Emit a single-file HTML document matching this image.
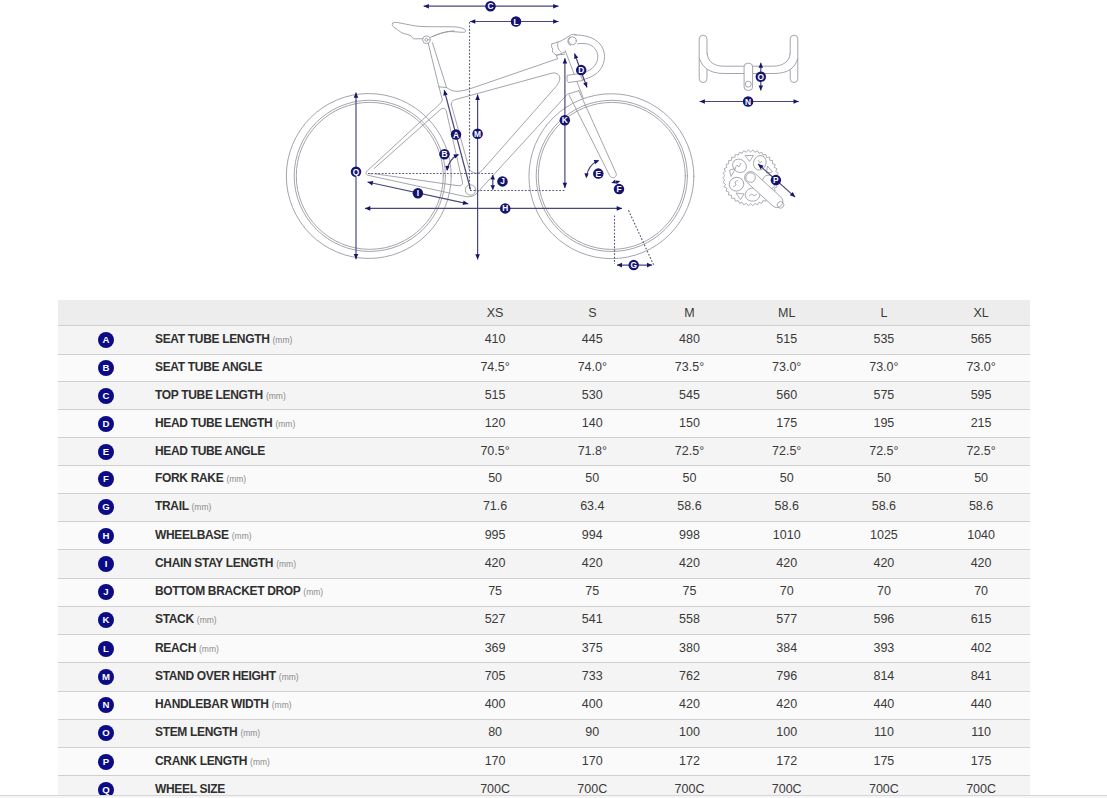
<!DOCTYPE html>
<html><head><meta charset="utf-8"><title>Geometry</title>
<style>
html,body{margin:0;padding:0;background:#fff;}
body{width:1107px;height:798px;overflow:hidden;position:relative;font-family:"Liberation Sans",sans-serif;}
.diag{position:absolute;left:0;top:0;}
.hdr{position:absolute;left:58px;top:300px;width:972px;height:25px;background:#ededed;}
.row{position:absolute;left:58px;width:972px;}
.bd{position:absolute;left:58px;width:972px;height:1px;background:#cfcfcf;}
.c{position:absolute;text-align:center;width:97px;font-size:12.5px;color:#3a3a3a;line-height:14px;white-space:nowrap;}
.h{color:#3a3a3a;}
.lbl{position:absolute;left:155px;font-size:12px;font-weight:bold;letter-spacing:-0.33px;color:#2f2f2f;line-height:14px;white-space:nowrap;}
.mm{font-size:8.5px;font-weight:normal;color:#8a8a8a;letter-spacing:0;}
.bdg{position:absolute;left:98px;width:16px;height:16px;border-radius:50%;background:#0b0b86;color:#fff;font-size:9.6px;font-weight:bold;text-align:center;line-height:16px;}
.foot{position:absolute;left:0;top:795px;width:1107px;height:1px;background:#d6d6d6;}
.foot2{position:absolute;left:0;top:796px;width:1107px;height:2px;background:#f6f6f6;}
</style></head><body>

<div class="diag"><svg width="1107" height="290" viewBox="0 0 1107 290"><g fill="none" stroke="#9a9aa3" stroke-width="0.9" stroke-linecap="round" stroke-linejoin="round"><circle cx="368.8" cy="176.0" r="82.45"/><circle cx="369.8" cy="175.85" r="75.6"/><circle cx="369.8" cy="175.85" r="73.5"/><circle cx="611.4" cy="176.2" r="82.45"/><circle cx="611.8" cy="175.9" r="75.6"/><circle cx="611.8" cy="175.9" r="73.5"/><path d="M392.5,23.2 C394,22 397,22.3 400,23 C408,24.5 414,26 420,26.4 C432,27 445,26.6 455,26.9 C460,27.2 464,28.2 465.8,30.5 C466,32 464.5,32.5 462,32.3 C458,32 454,31.6 450,31.5 C444,31.8 438,34 433,36.5 M392.5,23.2 C391.5,25 393,27 396,28.5 C399,31 401.5,33 405,33.8 C407,34.2 409,34.8 410.5,35.5"/><path d="M410.5,35.5 L413.5,38.8 L422.5,38.8"/><path d="M430,37.5 C438,33.5 446,31.5 454,30.8"/><circle cx="426.4" cy="39.8" r="3.8"/><circle cx="426.4" cy="39.8" r="1.5"/><path d="M428.2,43.2 L438.9,86.8"/><path d="M432.4,42.8 L446.6,87.6"/><path d="M438.9,86.8 L446.6,87.6 C450,90 453,91.5 458,91.3 C462,91 466,90 470,88.8 L557.6,58.7"/><path d="M451.3,104.5 C451,102 452,100.5 456,99.4 L551,73.4 C556,72 559.5,74 559.8,78 C560,81 558,84 556,86.5 L482,170.5 C480,172.5 478,173.3 476,173.2 C473,173 471,171 469.5,170"/><path d="M451.3,104.5 L469.5,170"/><path d="M438.9,86.8 L442.4,100 C441,103 438,106 432,111 L367.5,170.7"/><path d="M374.3,168.4 L440,110 C443,107 445.5,108.5 446.3,111 L462.5,182 C463,185 461,186 458,185.7 L374.8,173.8"/><path d="M366.8,171 C365.5,173 365.8,175 369,175.5 L463,196 C468,197.5 474,197 477,193"/><path d="M369,173.5 L372,174"/><circle cx="470.5" cy="190" r="5.2"/><path d="M477,193 L567.4,94.2 L578.8,90.7"/><path d="M557.6,58.7 L556.2,55 L564.8,54.2"/><path d="M565.2,50.5 L583.3,98.3"/><path d="M556.5,55.5 L565,52"/><path d="M551.8,44 C551,46 551.5,48 553,49 C552,50 552,52 553.5,53 L556.2,55"/><path d="M551.8,44 L558,42 C562,41 566,38 570,35.5 C572,34 575,34 576.5,35"/><path d="M558,42 C557,46 558,50 561,52"/><circle cx="572.4" cy="40.8" r="3.9"/><path d="M570,37 C567,39 567,44 570.5,45.5"/><path d="M574.5,35 C583,34.5 594,37 600,44 C606,51 606,62 600,70 C594,77 585,80 575,81"/><path d="M577.5,43.8 C585,42.6 593,44 596.5,51 C599.5,57 597.5,65 590,69.8 C586.5,72 583,73.6 580,74.5"/><path d="M569.1,95.1 L609.6,175.4 C611,178 614,178.5 615.5,176.5 C616.5,175.5 616.5,174 616,173 L578.8,90.7"/><path fill="#fff" d="M567.5,75.3 L580,73.5 L582.8,80.5 L569,82.5 C567.5,82.5 567,81 567,79.5 Z"/></g><g fill="none" stroke="#9a9aa3" stroke-width="0.9" stroke-linejoin="round"><rect x="699.2" y="35.2" width="7.8" height="47.3" rx="3.9"/><rect x="790.2" y="35.2" width="7.6" height="47.3" rx="3.8"/><path stroke="none" fill="#fff" d="M707,53 C708,62 714,66.2 724,66.2 L772.6,66.2 C782.6,66.2 789.6,62 790.2,53 L797.8,57.7 C796,67 789,73.5 774,73.5 L724,73.5 C709,73.5 702,67 699.2,57.7 Z"/><path d="M707,53 C708,62 714,66.2 724,66.2 L772.6,66.2 C782.6,66.2 789.6,62 790.2,53"/><path d="M699.2,57.7 C702,67 709,73.5 724,73.5 L774,73.5 C789,73.5 796,67 797.8,57.7"/><rect x="744.1" y="63.3" width="8.5" height="27.1" rx="3.5" fill="#fff"/><circle cx="748.3" cy="84.2" r="3"/></g><g fill="none" stroke="#9a9aa3" stroke-width="0.8" stroke-linejoin="round"><polygon points="778.6,177.8 776.4,179.9 778.2,182.4 775.7,184.2 777.1,186.9 774.3,188.2 775.2,191.1 772.3,192.0 772.7,195.0 769.7,195.3 769.6,198.4 766.5,198.2 765.9,201.2 762.9,200.6 761.8,203.4 759.0,202.3 757.5,204.9 754.9,203.3 752.9,205.7 750.6,203.7 748.3,205.7 746.3,203.3 743.7,204.9 742.2,202.3 739.4,203.4 738.3,200.6 735.3,201.2 734.7,198.2 731.6,198.4 731.5,195.3 728.5,195.0 728.9,192.0 726.0,191.1 726.9,188.2 724.1,186.9 725.5,184.2 723.0,182.4 724.8,179.9 722.6,177.8 724.8,175.7 723.0,173.2 725.5,171.4 724.1,168.7 726.9,167.4 726.0,164.5 728.9,163.6 728.5,160.6 731.5,160.3 731.6,157.2 734.7,157.4 735.3,154.4 738.3,155.0 739.4,152.2 742.2,153.3 743.7,150.7 746.3,152.3 748.3,149.9 750.6,151.9 752.9,149.9 754.9,152.3 757.5,150.7 759.0,153.3 761.8,152.2 762.9,155.0 765.9,154.4 766.5,157.4 769.6,157.2 769.7,160.3 772.7,160.6 772.3,163.6 775.2,164.5 774.3,167.4 777.1,168.7 775.7,171.4 778.2,173.2 776.4,175.7"/><ellipse cx="739.5" cy="165.8" rx="7.3" ry="6.3" transform="rotate(40 739.5 165.8)"/><ellipse cx="759.8" cy="162.8" rx="6.2" ry="7.4" transform="rotate(20 759.8 162.8)"/><ellipse cx="736.5" cy="184.2" rx="7.3" ry="6.8" transform="rotate(-20 736.5 184.2)"/><ellipse cx="752.6" cy="194.6" rx="6.6" ry="7.4" transform="rotate(80 752.6 194.6)"/><ellipse cx="769" cy="182" rx="6.5" ry="7" transform="rotate(-30 769 182)"/><path d="M735,168 l2,-3 l2,2 l2,-4 M733,187 l3,-2 l-1,-3 l3,-2 M749,196 l3,-2 l2,2 l3,-2 M758,160 l2,3 l2,-2"/><polygon points="745,155.5 753.5,155.5 749.5,161.5"/><polygon points="729.5,170 735.5,168.5 731,176.5"/><polygon points="736,193 744,194 740.5,199.5"/><polygon points="767.5,166 772.5,172 766.5,173"/><polygon points="762,196 768,193 767,199"/><g transform="translate(750.6 177.6) rotate(42.3)"><rect x="-6" y="-6" width="47.5" height="12" rx="6" fill="#fff"/><circle cx="0" cy="0" r="4.8"/><circle cx="40.5" cy="0" r="3.3"/></g></g><g stroke="#5a5a7c" stroke-width="1.1" stroke-dasharray="1.8 1.63" fill="none"><line x1="469.5" y1="22" x2="469.5" y2="189"/><line x1="368" y1="173.5" x2="493" y2="173.5"/><line x1="470" y1="190.5" x2="565" y2="190.5"/><line x1="614.5" y1="215.5" x2="614.5" y2="264"/><line x1="628.5" y1="210.3" x2="653.6" y2="264.8"/></g><line x1="423.6" y1="6.2" x2="558.5" y2="6.2" stroke="#48487c" stroke-width="1.2"/><polygon points="558.5,6.2 553.2,8.5 553.2,3.9" fill="#14146e"/><polygon points="423.6,6.2 428.9,3.9 428.9,8.5" fill="#14146e"/><line x1="470" y1="21.5" x2="558.5" y2="21.5" stroke="#48487c" stroke-width="1.2"/><polygon points="558.5,21.5 553.2,23.8 553.2,19.2" fill="#14146e"/><polygon points="470.0,21.5 475.3,19.2 475.3,23.8" fill="#14146e"/><line x1="356" y1="92.4" x2="356" y2="259.2" stroke="#48487c" stroke-width="1.2"/><polygon points="356.0,259.2 353.7,253.9 358.3,253.9" fill="#14146e"/><polygon points="356.0,92.4 358.3,97.7 353.7,97.7" fill="#14146e"/><line x1="470.5" y1="189.5" x2="444.2" y2="90" stroke="#48487c" stroke-width="1.2"/><polygon points="444.2,90.0 447.8,94.5 443.3,95.7" fill="#14146e"/><line x1="477.6" y1="94.6" x2="477.6" y2="259.5" stroke="#48487c" stroke-width="1.2"/><polygon points="477.6,259.5 475.3,254.2 479.9,254.2" fill="#14146e"/><polygon points="477.6,94.6 479.9,99.9 475.3,99.9" fill="#14146e"/><line x1="564.9" y1="58.2" x2="564.9" y2="188" stroke="#48487c" stroke-width="1.2"/><polygon points="564.9,188.0 562.6,182.7 567.2,182.7" fill="#14146e"/><polygon points="564.9,58.2 567.2,63.5 562.6,63.5" fill="#14146e"/><line x1="574.5" y1="53.5" x2="587" y2="87.5" stroke="#48487c" stroke-width="1.2"/><polygon points="587.0,87.5 583.2,83.6 587.3,82.0" fill="#14146e"/><polygon points="574.5,53.5 578.3,57.4 574.2,59.0" fill="#14146e"/><line x1="367.5" y1="182" x2="468.3" y2="203.8" stroke="#48487c" stroke-width="1.2"/><polygon points="468.3,203.8 462.6,204.9 463.6,200.4" fill="#14146e"/><polygon points="367.5,182.0 373.2,180.9 372.2,185.4" fill="#14146e"/><line x1="365" y1="208.4" x2="622" y2="208.4" stroke="#48487c" stroke-width="1.2"/><polygon points="622.0,208.4 616.7,210.7 616.7,206.1" fill="#14146e"/><polygon points="365.0,208.4 370.3,206.1 370.3,210.7" fill="#14146e"/><line x1="492.8" y1="174.9" x2="492.8" y2="189.8" stroke="#48487c" stroke-width="1.2"/><polygon points="492.8,189.8 490.5,185.3 495.1,185.3" fill="#14146e"/><polygon points="492.8,174.9 495.1,179.4 490.5,179.4" fill="#14146e"/><line x1="617" y1="265.1" x2="652" y2="265.1" stroke="#48487c" stroke-width="1.2"/><polygon points="652.0,265.1 647.0,267.5 647.0,262.7" fill="#14146e"/><polygon points="617.0,265.1 622.0,262.7 622.0,267.5" fill="#14146e"/><line x1="699.6" y1="101.5" x2="798.8" y2="101.5" stroke="#48487c" stroke-width="1.2"/><polygon points="798.8,101.5 793.5,103.8 793.5,99.2" fill="#14146e"/><polygon points="699.6,101.5 704.9,99.2 704.9,103.8" fill="#14146e"/><line x1="760.8" y1="62.8" x2="760.8" y2="90.4" stroke="#48487c" stroke-width="1.2"/><polygon points="760.8,90.4 758.5,85.4 763.1,85.4" fill="#14146e"/><polygon points="760.8,62.8 763.1,67.8 758.5,67.8" fill="#14146e"/><line x1="758.1" y1="164" x2="795.2" y2="197.1" stroke="#48487c" stroke-width="1.2"/><polygon points="795.2,197.1 789.7,195.3 792.8,191.9" fill="#14146e"/><polygon points="758.1,164.0 763.6,165.8 760.5,169.2" fill="#14146e"/><path d="M458.3,154.6 Q449,159 447.2,170" fill="none" stroke="#48487c" stroke-width="1.2"/><polygon points="458.8,154.2 455.3,158.4 453.3,154.5" fill="#14146e"/><polygon points="447.0,171.0 445.2,165.8 449.6,166.2" fill="#14146e"/><path d="M598.5,160.5 Q588,165 586.5,177" fill="none" stroke="#48487c" stroke-width="1.2"/><polygon points="599.2,160.2 595.4,164.2 593.7,160.1" fill="#14146e"/><polygon points="586.3,178.3 584.4,173.2 588.7,173.4" fill="#14146e"/><polygon points="611.3,183.0 615.0,179.8 616.2,183.6" fill="#14146e"/><polygon points="620.3,181.0 616.6,184.2 615.4,180.4" fill="#14146e"/><circle cx="490.5" cy="6.2" r="5.25" fill="#14146e"/><text x="490.5" y="9.2" font-family="Liberation Sans" font-weight="bold" font-size="8.4" fill="#fff" text-anchor="middle">C</text><circle cx="516" cy="21.5" r="5.25" fill="#14146e"/><text x="516" y="24.5" font-family="Liberation Sans" font-weight="bold" font-size="8.4" fill="#fff" text-anchor="middle">L</text><circle cx="456" cy="134.5" r="5.25" fill="#14146e"/><text x="456" y="137.5" font-family="Liberation Sans" font-weight="bold" font-size="8.4" fill="#fff" text-anchor="middle">A</text><circle cx="477.6" cy="133.8" r="5.25" fill="#14146e"/><text x="477.6" y="136.8" font-family="Liberation Sans" font-weight="bold" font-size="8.4" fill="#fff" text-anchor="middle">M</text><circle cx="444.5" cy="154.2" r="5.25" fill="#14146e"/><text x="444.5" y="157.2" font-family="Liberation Sans" font-weight="bold" font-size="8.4" fill="#fff" text-anchor="middle">B</text><circle cx="356" cy="171.8" r="5.25" fill="#14146e"/><text x="356" y="174.8" font-family="Liberation Sans" font-weight="bold" font-size="8.4" fill="#fff" text-anchor="middle">Q</text><circle cx="417.9" cy="193.2" r="5.25" fill="#14146e"/><text x="417.9" y="196.2" font-family="Liberation Sans" font-weight="bold" font-size="8.4" fill="#fff" text-anchor="middle">I</text><circle cx="502.5" cy="181.4" r="5.25" fill="#14146e"/><text x="502.5" y="184.4" font-family="Liberation Sans" font-weight="bold" font-size="8.4" fill="#fff" text-anchor="middle">J</text><circle cx="505.2" cy="208.4" r="5.25" fill="#14146e"/><text x="505.2" y="211.4" font-family="Liberation Sans" font-weight="bold" font-size="8.4" fill="#fff" text-anchor="middle">H</text><circle cx="564.8" cy="120.2" r="5.25" fill="#14146e"/><text x="564.8" y="123.2" font-family="Liberation Sans" font-weight="bold" font-size="8.4" fill="#fff" text-anchor="middle">K</text><circle cx="581.2" cy="70.1" r="5.25" fill="#14146e"/><text x="581.2" y="73.1" font-family="Liberation Sans" font-weight="bold" font-size="8.4" fill="#fff" text-anchor="middle">D</text><circle cx="598.3" cy="173.6" r="5.25" fill="#14146e"/><text x="598.3" y="176.6" font-family="Liberation Sans" font-weight="bold" font-size="8.4" fill="#fff" text-anchor="middle">E</text><circle cx="619" cy="189.1" r="5.25" fill="#14146e"/><text x="619" y="192.1" font-family="Liberation Sans" font-weight="bold" font-size="8.4" fill="#fff" text-anchor="middle">F</text><circle cx="633.7" cy="265.1" r="5.25" fill="#14146e"/><text x="633.7" y="268.1" font-family="Liberation Sans" font-weight="bold" font-size="8.4" fill="#fff" text-anchor="middle">G</text><circle cx="760.8" cy="76.7" r="5.25" fill="#14146e"/><text x="760.8" y="79.7" font-family="Liberation Sans" font-weight="bold" font-size="8.4" fill="#fff" text-anchor="middle">O</text><circle cx="748.1" cy="101.5" r="5.25" fill="#14146e"/><text x="748.1" y="104.5" font-family="Liberation Sans" font-weight="bold" font-size="8.4" fill="#fff" text-anchor="middle">N</text><circle cx="775.9" cy="180.1" r="5.25" fill="#14146e"/><text x="775.9" y="183.1" font-family="Liberation Sans" font-weight="bold" font-size="8.4" fill="#fff" text-anchor="middle">P</text></svg></div>
<div class="hdr"></div>
<div class="c h" style="left:446.6px;top:306px">XS</div>
<div class="c h" style="left:543.8px;top:306px">S</div>
<div class="c h" style="left:641.0px;top:306px">M</div>
<div class="c h" style="left:738.2px;top:306px">ML</div>
<div class="c h" style="left:835.4px;top:306px">L</div>
<div class="c h" style="left:932.6px;top:306px">XL</div>
<div class="row" style="top:326px;height:28px;background:#f4f4f4"></div>
<div class="bd" style="top:325px"></div>
<div class="bdg" style="top:332px">A</div>
<div class="lbl" style="top:332px">SEAT TUBE LENGTH <span class="mm">(mm)</span></div>
<div class="c" style="left:446.6px;top:332px">410</div>
<div class="c" style="left:543.8px;top:332px">445</div>
<div class="c" style="left:641.0px;top:332px">480</div>
<div class="c" style="left:738.2px;top:332px">515</div>
<div class="c" style="left:835.4px;top:332px">535</div>
<div class="c" style="left:932.6px;top:332px">565</div>
<div class="row" style="top:355px;height:26px;background:#fafafa"></div>
<div class="bd" style="top:354px"></div>
<div class="bdg" style="top:360px">B</div>
<div class="lbl" style="top:360px">SEAT TUBE ANGLE</div>
<div class="c" style="left:446.6px;top:360px">74.5°</div>
<div class="c" style="left:543.8px;top:360px">74.0°</div>
<div class="c" style="left:641.0px;top:360px">73.5°</div>
<div class="c" style="left:738.2px;top:360px">73.0°</div>
<div class="c" style="left:835.4px;top:360px">73.0°</div>
<div class="c" style="left:932.6px;top:360px">73.0°</div>
<div class="row" style="top:382px;height:27px;background:#f4f4f4"></div>
<div class="bd" style="top:381px"></div>
<div class="bdg" style="top:388px">C</div>
<div class="lbl" style="top:388px">TOP TUBE LENGTH <span class="mm">(mm)</span></div>
<div class="c" style="left:446.6px;top:388px">515</div>
<div class="c" style="left:543.8px;top:388px">530</div>
<div class="c" style="left:641.0px;top:388px">545</div>
<div class="c" style="left:738.2px;top:388px">560</div>
<div class="c" style="left:835.4px;top:388px">575</div>
<div class="c" style="left:932.6px;top:388px">595</div>
<div class="row" style="top:410px;height:27px;background:#fafafa"></div>
<div class="bd" style="top:409px"></div>
<div class="bdg" style="top:416px">D</div>
<div class="lbl" style="top:416px">HEAD TUBE LENGTH <span class="mm">(mm)</span></div>
<div class="c" style="left:446.6px;top:416px">120</div>
<div class="c" style="left:543.8px;top:416px">140</div>
<div class="c" style="left:641.0px;top:416px">150</div>
<div class="c" style="left:738.2px;top:416px">175</div>
<div class="c" style="left:835.4px;top:416px">195</div>
<div class="c" style="left:932.6px;top:416px">215</div>
<div class="row" style="top:438px;height:27px;background:#f4f4f4"></div>
<div class="bd" style="top:437px"></div>
<div class="bdg" style="top:444px">E</div>
<div class="lbl" style="top:444px">HEAD TUBE ANGLE</div>
<div class="c" style="left:446.6px;top:444px">70.5°</div>
<div class="c" style="left:543.8px;top:444px">71.8°</div>
<div class="c" style="left:641.0px;top:444px">72.5°</div>
<div class="c" style="left:738.2px;top:444px">72.5°</div>
<div class="c" style="left:835.4px;top:444px">72.5°</div>
<div class="c" style="left:932.6px;top:444px">72.5°</div>
<div class="row" style="top:466px;height:27px;background:#fafafa"></div>
<div class="bd" style="top:465px"></div>
<div class="bdg" style="top:471px">F</div>
<div class="lbl" style="top:471px">FORK RAKE <span class="mm">(mm)</span></div>
<div class="c" style="left:446.6px;top:471px">50</div>
<div class="c" style="left:543.8px;top:471px">50</div>
<div class="c" style="left:641.0px;top:471px">50</div>
<div class="c" style="left:738.2px;top:471px">50</div>
<div class="c" style="left:835.4px;top:471px">50</div>
<div class="c" style="left:932.6px;top:471px">50</div>
<div class="row" style="top:494px;height:27px;background:#f4f4f4"></div>
<div class="bd" style="top:493px"></div>
<div class="bdg" style="top:499px">G</div>
<div class="lbl" style="top:499px">TRAIL <span class="mm">(mm)</span></div>
<div class="c" style="left:446.6px;top:499px">71.6</div>
<div class="c" style="left:543.8px;top:499px">63.4</div>
<div class="c" style="left:641.0px;top:499px">58.6</div>
<div class="c" style="left:738.2px;top:499px">58.6</div>
<div class="c" style="left:835.4px;top:499px">58.6</div>
<div class="c" style="left:932.6px;top:499px">58.6</div>
<div class="row" style="top:522px;height:27px;background:#fafafa"></div>
<div class="bd" style="top:521px"></div>
<div class="bdg" style="top:528px">H</div>
<div class="lbl" style="top:528px">WHEELBASE <span class="mm">(mm)</span></div>
<div class="c" style="left:446.6px;top:528px">995</div>
<div class="c" style="left:543.8px;top:528px">994</div>
<div class="c" style="left:641.0px;top:528px">998</div>
<div class="c" style="left:738.2px;top:528px">1010</div>
<div class="c" style="left:835.4px;top:528px">1025</div>
<div class="c" style="left:932.6px;top:528px">1040</div>
<div class="row" style="top:550px;height:28px;background:#f4f4f4"></div>
<div class="bd" style="top:549px"></div>
<div class="bdg" style="top:556px">I</div>
<div class="lbl" style="top:556px">CHAIN STAY LENGTH <span class="mm">(mm)</span></div>
<div class="c" style="left:446.6px;top:556px">420</div>
<div class="c" style="left:543.8px;top:556px">420</div>
<div class="c" style="left:641.0px;top:556px">420</div>
<div class="c" style="left:738.2px;top:556px">420</div>
<div class="c" style="left:835.4px;top:556px">420</div>
<div class="c" style="left:932.6px;top:556px">420</div>
<div class="row" style="top:579px;height:27px;background:#fafafa"></div>
<div class="bd" style="top:578px"></div>
<div class="bdg" style="top:584px">J</div>
<div class="lbl" style="top:584px">BOTTOM BRACKET DROP <span class="mm">(mm)</span></div>
<div class="c" style="left:446.6px;top:584px">75</div>
<div class="c" style="left:543.8px;top:584px">75</div>
<div class="c" style="left:641.0px;top:584px">75</div>
<div class="c" style="left:738.2px;top:584px">70</div>
<div class="c" style="left:835.4px;top:584px">70</div>
<div class="c" style="left:932.6px;top:584px">70</div>
<div class="row" style="top:607px;height:27px;background:#f4f4f4"></div>
<div class="bd" style="top:606px"></div>
<div class="bdg" style="top:612px">K</div>
<div class="lbl" style="top:612px">STACK <span class="mm">(mm)</span></div>
<div class="c" style="left:446.6px;top:612px">527</div>
<div class="c" style="left:543.8px;top:612px">541</div>
<div class="c" style="left:641.0px;top:612px">558</div>
<div class="c" style="left:738.2px;top:612px">577</div>
<div class="c" style="left:835.4px;top:612px">596</div>
<div class="c" style="left:932.6px;top:612px">615</div>
<div class="row" style="top:635px;height:27px;background:#fafafa"></div>
<div class="bd" style="top:634px"></div>
<div class="bdg" style="top:641px">L</div>
<div class="lbl" style="top:641px">REACH <span class="mm">(mm)</span></div>
<div class="c" style="left:446.6px;top:641px">369</div>
<div class="c" style="left:543.8px;top:641px">375</div>
<div class="c" style="left:641.0px;top:641px">380</div>
<div class="c" style="left:738.2px;top:641px">384</div>
<div class="c" style="left:835.4px;top:641px">393</div>
<div class="c" style="left:932.6px;top:641px">402</div>
<div class="row" style="top:663px;height:28px;background:#f4f4f4"></div>
<div class="bd" style="top:662px"></div>
<div class="bdg" style="top:669px">M</div>
<div class="lbl" style="top:669px">STAND OVER HEIGHT <span class="mm">(mm)</span></div>
<div class="c" style="left:446.6px;top:669px">705</div>
<div class="c" style="left:543.8px;top:669px">733</div>
<div class="c" style="left:641.0px;top:669px">762</div>
<div class="c" style="left:738.2px;top:669px">796</div>
<div class="c" style="left:835.4px;top:669px">814</div>
<div class="c" style="left:932.6px;top:669px">841</div>
<div class="row" style="top:692px;height:27px;background:#fafafa"></div>
<div class="bd" style="top:691px"></div>
<div class="bdg" style="top:697px">N</div>
<div class="lbl" style="top:697px">HANDLEBAR WIDTH <span class="mm">(mm)</span></div>
<div class="c" style="left:446.6px;top:697px">400</div>
<div class="c" style="left:543.8px;top:697px">400</div>
<div class="c" style="left:641.0px;top:697px">420</div>
<div class="c" style="left:738.2px;top:697px">420</div>
<div class="c" style="left:835.4px;top:697px">440</div>
<div class="c" style="left:932.6px;top:697px">440</div>
<div class="row" style="top:720px;height:27px;background:#f4f4f4"></div>
<div class="bd" style="top:719px"></div>
<div class="bdg" style="top:725px">O</div>
<div class="lbl" style="top:725px">STEM LENGTH <span class="mm">(mm)</span></div>
<div class="c" style="left:446.6px;top:725px">80</div>
<div class="c" style="left:543.8px;top:725px">90</div>
<div class="c" style="left:641.0px;top:725px">100</div>
<div class="c" style="left:738.2px;top:725px">100</div>
<div class="c" style="left:835.4px;top:725px">110</div>
<div class="c" style="left:932.6px;top:725px">110</div>
<div class="row" style="top:748px;height:27px;background:#fafafa"></div>
<div class="bd" style="top:747px"></div>
<div class="bdg" style="top:754px">P</div>
<div class="lbl" style="top:754px">CRANK LENGTH <span class="mm">(mm)</span></div>
<div class="c" style="left:446.6px;top:754px">170</div>
<div class="c" style="left:543.8px;top:754px">170</div>
<div class="c" style="left:641.0px;top:754px">172</div>
<div class="c" style="left:738.2px;top:754px">172</div>
<div class="c" style="left:835.4px;top:754px">175</div>
<div class="c" style="left:932.6px;top:754px">175</div>
<div class="row" style="top:776px;height:19px;background:#f4f4f4"></div>
<div class="bd" style="top:775px"></div>
<div class="bdg" style="top:782px">Q</div>
<div class="lbl" style="top:782px">WHEEL SIZE</div>
<div class="c" style="left:446.6px;top:782px">700C</div>
<div class="c" style="left:543.8px;top:782px">700C</div>
<div class="c" style="left:641.0px;top:782px">700C</div>
<div class="c" style="left:738.2px;top:782px">700C</div>
<div class="c" style="left:835.4px;top:782px">700C</div>
<div class="c" style="left:932.6px;top:782px">700C</div>
<div class="foot"></div><div class="foot2"></div>
</body></html>
